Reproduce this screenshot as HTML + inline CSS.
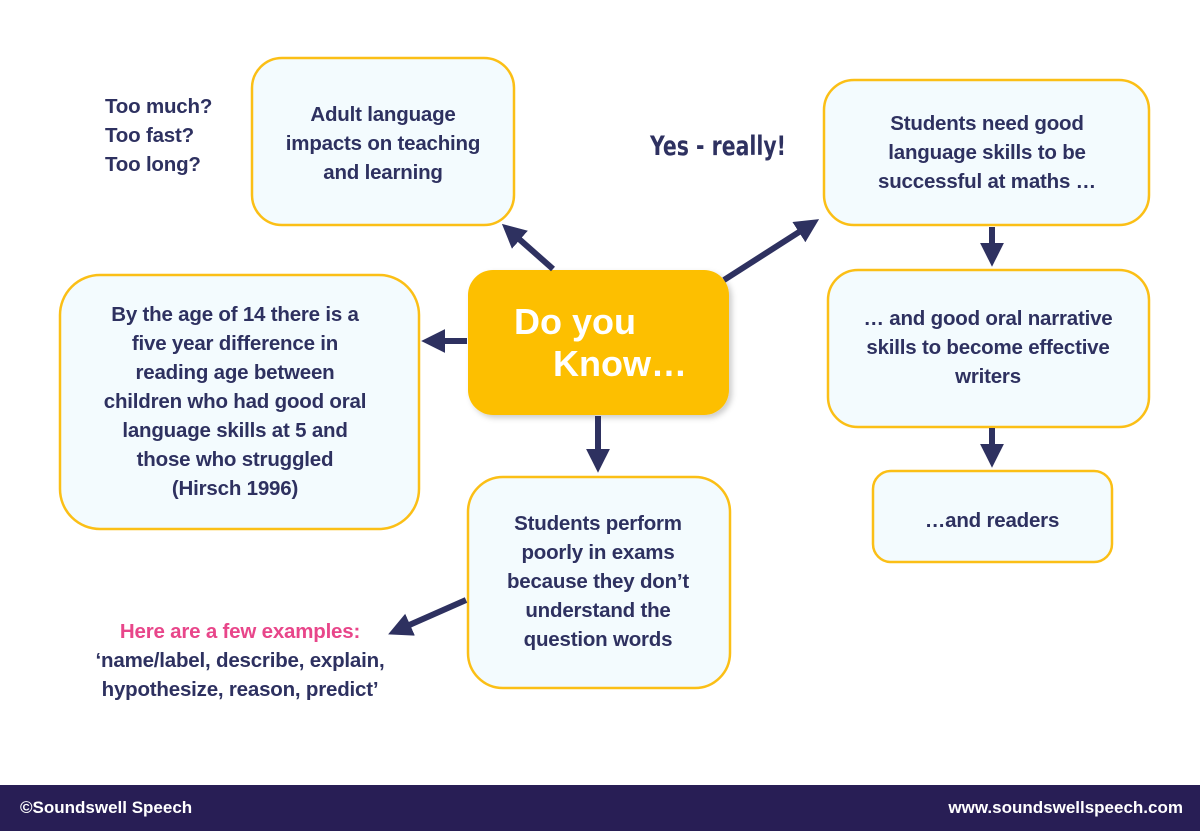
<!DOCTYPE html>
<html><head><meta charset="utf-8"><style>
html,body{margin:0;padding:0;background:#fff;}
svg{display:block}
text{font-family:"Liberation Sans",sans-serif;font-weight:bold;}
</style></head><body>
<svg width="1200" height="831" viewBox="0 0 1200 831" xmlns="http://www.w3.org/2000/svg">
<defs>
<marker id="ah" markerWidth="4" markerHeight="4" refX="2.2" refY="2" orient="auto" markerUnits="strokeWidth">
<path d="M0,0 L4,2 L0,4 z" fill="#2e3160"/>
</marker>
<filter id="sh" x="-10%" y="-10%" width="130%" height="130%"><feDropShadow dx="3" dy="3" stdDeviation="3" flood-color="#000" flood-opacity="0.2"/></filter>
</defs>
<rect width="1200" height="831" fill="#fff"/>
<g fill="#f3fbfe" stroke="#fbbf16" stroke-width="2.5">
<rect x="252" y="58" width="262" height="167" rx="30"/>
<rect x="824" y="80" width="325" height="145" rx="30"/>
<rect x="828" y="270" width="321" height="157" rx="30"/>
<rect x="873" y="471" width="239" height="91" rx="18"/>
<rect x="60" y="275" width="359" height="254" rx="40"/>
<rect x="468" y="477" width="262" height="211" rx="35"/>
</g>
<rect x="468" y="270" width="261" height="145" rx="25" fill="#fdbf00" filter="url(#sh)"/>
<g stroke="#2e3160" stroke-width="6" marker-end="url(#ah)" fill="none">
<line x1="553" y1="269" x2="510" y2="231"/>
<line x1="724" y1="280" x2="810" y2="225"/>
<line x1="467" y1="341" x2="432" y2="341"/>
<line x1="598" y1="416" x2="598" y2="462"/>
<line x1="992" y1="227" x2="992" y2="256"/>
<line x1="992" y1="428" x2="992" y2="457"/>
<line x1="466" y1="600" x2="398" y2="630"/>
</g>
<g fill="#2e3160" font-size="20.5" text-anchor="middle" letter-spacing="-0.2">
<text x="383" y="121">Adult language</text>
<text x="383" y="150">impacts on teaching</text>
<text x="383" y="179">and learning</text>
<text x="987" y="130">Students need good</text>
<text x="987" y="159">language skills to be</text>
<text x="987" y="188">successful at maths …</text>
<text x="988" y="325">… and good oral narrative</text>
<text x="988" y="354">skills to become effective</text>
<text x="988" y="383">writers</text>
<text x="992" y="527">…and readers</text>
<text x="235" y="321">By the age of 14 there is a</text>
<text x="235" y="350">five year difference in</text>
<text x="235" y="379">reading age between</text>
<text x="235" y="408">children who had good oral</text>
<text x="235" y="437">language skills at 5 and</text>
<text x="235" y="466">those who struggled</text>
<text x="235" y="495">(Hirsch 1996)</text>
<text x="598" y="530">Students perform</text>
<text x="598" y="559">poorly in exams</text>
<text x="598" y="588">because they don’t</text>
<text x="598" y="617">understand the</text>
<text x="598" y="646">question words</text>
<text x="240" y="667">‘name/label, describe, explain,</text>
<text x="240" y="696">hypothesize, reason, predict’</text>
</g>
<text x="240" y="638" fill="#e8468a" font-size="20.5" text-anchor="middle" letter-spacing="-0.2">Here are a few examples:</text>
<g fill="#2e3160" font-size="20.5" letter-spacing="-0.2">
<text x="105" y="113">Too much?</text>
<text x="105" y="142">Too fast?</text>
<text x="105" y="171">Too long?</text>
</g>
<text x="650" y="155" fill="#2e3160" font-size="27" textLength="136" lengthAdjust="spacingAndGlyphs" style="font-family:'DejaVu Sans',sans-serif">Yes - really!</text>
<g fill="#fff" font-size="36">
<text x="514" y="334">Do you</text>
<text x="553" y="376">Know…</text>
</g>
<rect x="0" y="785" width="1200" height="46" fill="#281e55"/>
<text x="20" y="813" fill="#fff" font-size="17">©Soundswell Speech</text>
<text x="1183" y="813" fill="#fff" font-size="17" text-anchor="end">www.soundswellspeech.com</text>
</svg>
</body></html>
